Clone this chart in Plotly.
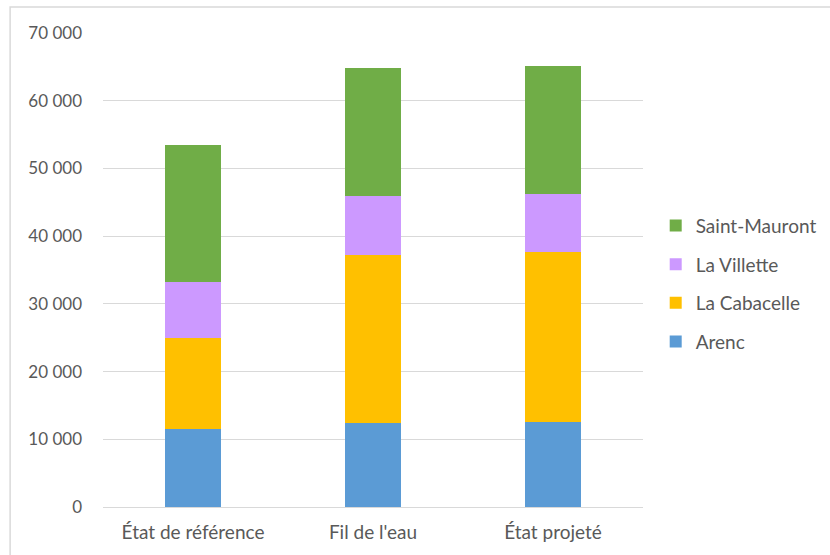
import plotly.graph_objects as go

categories = ["État de référence", "Fil de l'eau", "État projeté"]
arenc = [11500, 12400, 12600]
cabacelle = [13450, 24800, 25000]
villette = [8250, 8700, 8600]
saint_mauront = [20200, 19000, 18900]

series = [
    ("Arenc", arenc, "#5B9BD5"),
    ("La Cabacelle", cabacelle, "#FFC000"),
    ("La Villette", villette, "#CC99FF"),
    ("Saint-Mauront", saint_mauront, "#70AD47"),
]

FONT = "Lato, Liberation Sans, sans-serif"

fig = go.Figure()
n = len(series)
for i, (name, vals, col) in enumerate(series):
    fig.add_trace(go.Bar(
        x=categories, y=vals, name=name, legendgroup=f"g{i}",
        legendrank=n - i,
        marker=dict(color=col, line=dict(width=0)),
    ))

fig.update_layout(
    barmode="stack",
    bargap=0.69,
    width=830, height=555,
    margin=dict(l=103, r=187, t=33, b=48, autoexpand=False),
    paper_bgcolor="white", plot_bgcolor="white",
    separators=", ",
    font=dict(family=FONT, color="#595959", size=17),
    legend=dict(
        traceorder="grouped",
        xref="container", yref="container",
        x=0.790, xanchor="left", y=0.489, yanchor="middle",
        font=dict(size=19, color="#595959", family=FONT),
        tracegroupgap=11,
        bgcolor="rgba(0,0,0,0)",
    ),
    xaxis=dict(showline=False, ticks="", tickfont=dict(size=19),
               ticklabelstandoff=12),
    yaxis=dict(
        range=[0, 70000], dtick=10000, tickformat=",d",
        showgrid=True, gridcolor="#D9D9D9", gridwidth=1,
        zeroline=True, zerolinecolor="#D9D9D9", zerolinewidth=1,
        ticks="", ticklabelstandoff=20, tickfont=dict(size=17),
    ),
    shapes=[dict(
        type="rect", xref="paper", yref="paper",
        x0=-0.172, x1=1.36, y0=-0.2, y1=1.0549,
        line=dict(color="#D9D9D9", width=1.5), layer="below",
    )],
)

fig.write_html("out.html")
